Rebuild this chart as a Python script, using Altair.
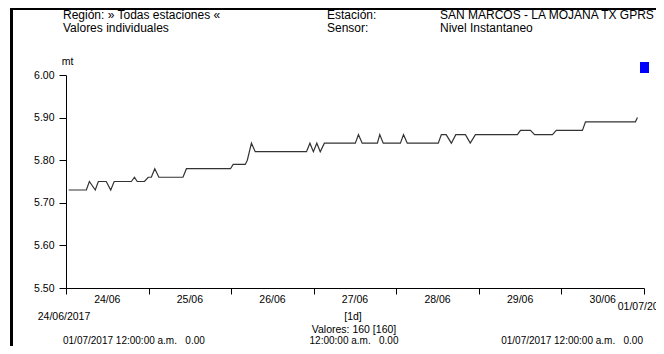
import altair as alt
import pandas as pd

# ---- data ----
hours = [0.8, 5.9, 6.8, 8.5, 9.4, 11.7, 13.0, 14.0, 19.0, 19.9, 20.7, 22.8, 23.9,
         24.8, 25.8, 27.0, 34.0, 35.0, 47.8, 48.6, 52.1, 52.7, 53.9, 55.0, 69.9,
         70.9, 71.9, 72.9, 73.9, 75.1, 84.1, 85.0, 86.1, 90.5, 91.2, 92.2, 97.2,
         98.1, 99.2, 108.2, 109.1, 110.5, 112.0, 113.3, 116.1, 117.5, 119.0,
         131.2, 132.1, 135.0, 136.2, 141.4, 142.5, 150.1, 151.0, 165.5, 166.1]
level = [5.73, 5.73, 5.75, 5.73, 5.75, 5.75, 5.73, 5.75, 5.75, 5.76, 5.75, 5.75, 5.76,
         5.76, 5.78, 5.76, 5.76, 5.78, 5.78, 5.79, 5.79, 5.80, 5.84, 5.82, 5.82,
         5.84, 5.82, 5.84, 5.82, 5.84, 5.84, 5.86, 5.84, 5.84, 5.86, 5.84, 5.84,
         5.86, 5.84, 5.84, 5.86, 5.86, 5.84, 5.86, 5.86, 5.84, 5.86,
         5.86, 5.87, 5.87, 5.86, 5.86, 5.87, 5.87, 5.89, 5.89, 5.90]
day_labels = ["24/06", "25/06", "26/06", "27/06", "28/06", "29/06", "30/06"]
day_centers = [12, 36, 60, 84, 108, 132, 156]
day_ticks = [0, 24, 48, 72, 96, 120, 144, 168]
y_ticks = [5.5, 5.6, 5.7, 5.8, 5.9, 6.0]

FONT = "Liberation Sans"
FS = 11
NB = "\u00a0"

line_df = pd.DataFrame({"h": hours, "v": level})
days_df = pd.DataFrame({"h": day_centers, "lab": day_labels})

xscale = alt.Scale(domain=[0, 168], nice=False, zero=False)
yscale = alt.Scale(domain=[5.5, 6.0], nice=False, zero=False)

line = alt.Chart(line_df).mark_line(color="#333333", strokeWidth=1.2).encode(
    x=alt.X("h:Q", scale=xscale,
            axis=alt.Axis(values=day_ticks, labels=False, title=None, grid=False,
                          tickSize=6, domainColor="black", tickColor="black")),
    y=alt.Y("v:Q", scale=yscale,
            axis=alt.Axis(values=y_ticks, format=".2f", title=None, grid=False,
                          tickSize=7, labelPadding=5, domainColor="black",
                          tickColor="black", labelColor="black",
                          labelFont=FONT, labelFontSize=10.5)),
)

days = alt.Chart(days_df).mark_text(font=FONT, fontSize=10.5, color="black",
                                    baseline="middle").encode(
    x=alt.X("h:Q", scale=xscale), y=alt.value(225), text="lab:N")

dummy = alt.Data(values=[{"a": 1}])


def label(txt, x, y, align="left", size=FS, font=FONT):
    return alt.Chart(dummy).mark_text(text=txt, font=font, fontSize=size, color="black",
                                      align=align, baseline="middle").encode(
        x=alt.value(x), y=alt.value(y))


stamp = "01/07/2017 12:00:00 a.m." + NB * 3 + "0.00"
texts = [
    label("Región: » Todas estaciones «", -3, -60, size=12),
    label("Valores individuales", -3, -47, size=12),
    label("Estación:", 261, -60, size=12),
    label("Sensor:", 261, -47, size=12),
    label("SAN MARCOS - LA MOJANA TX GPRS", 374, -60, size=12),
    label("Nivel Instantaneo", 374, -47, size=12),
    label("mt", 1.5, -13, "center", size=10.5),
    label("24/06/2017", -2, 242, "center", size=10.5),
    label("01/07/2017", 578, 232, "center", size=10.5),
    label("[1d]", 287, 242, "center", size=10.5),
    label("Valores: 160 [160]", 288, 255, "center", size=10.5),
    label(stamp, -3, 266, "left", size=10),
    label("12:00:00 a.m." + NB * 3 + "0.00", 288, 266, "center", size=10),
    label(stamp, 577, 266, "right", size=10),
]

square = alt.Chart(dummy).mark_rect(color="#0000ff").encode(
    x=alt.value(574), x2=alt.value(583), y=alt.value(-13), y2=alt.value(-2))
frame_left = alt.Chart(dummy).mark_rect(color="black").encode(
    x=alt.value(-56), x2=alt.value(-53), y=alt.value(-67), y2=alt.value(280))
frame_top = alt.Chart(dummy).mark_rule(color="black", strokeWidth=2).encode(
    x=alt.value(-56), x2=alt.value(600), y=alt.value(-66))

chart = alt.layer(line, days, square, frame_left, frame_top, *texts).properties(
    width=578, height=213,
    autosize=alt.AutoSizeParams(type="none"),
    padding={"left": 58, "top": 67, "right": 12, "bottom": 58},
    background="white",
).configure_view(stroke=None).configure_axis(labelFont=FONT, labelFontSize=10.5)

chart.save("out.html", embed_options={"renderer": "svg", "actions": False})
